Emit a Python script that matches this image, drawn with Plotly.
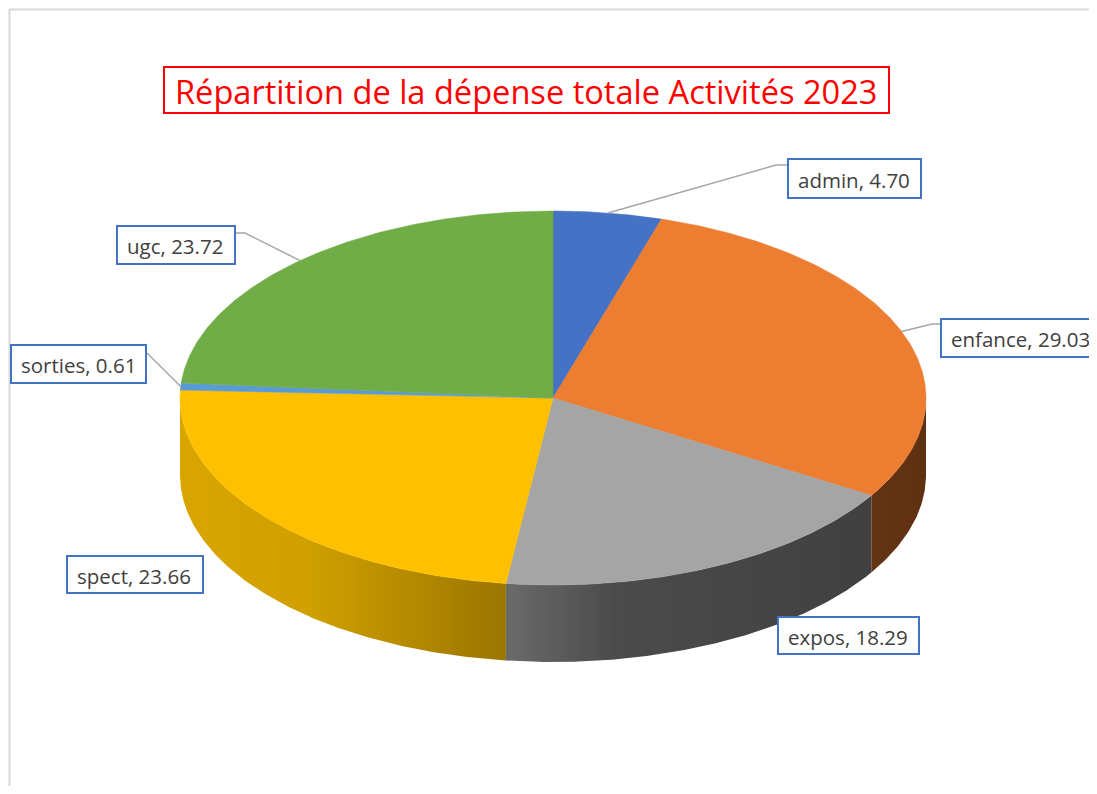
import numpy as np
import plotly.graph_objects as go

# ---- data ----
categories = ["admin", "enfance", "expos", "spect", "sorties", "ugc"]
values = [4.70, 29.03, 18.29, 23.66, 0.61, 23.72]
title_text = "Répartition de la dépense totale Activités 2023"

# ---- styles ----
top_colors = ["#4472C4", "#ED7D31", "#A5A5A5", "#FFC000", "#5B9BD5", "#70AD47"]
side_scales = {
    "admin": [[0, "#2a4a80"], [1, "#2a4a80"]],
    "enfance": [[0, "#643414"], [1, "#5e3112"]],
    "expos": [[0, "#6a6a6a"], [0.3, "#4b4b4b"], [1, "#404040"]],
    "spect": [[0, "#d9a500"], [0.4, "#d0a000"], [1, "#9a7500"]],
    "sorties": [[0, "#3a6a98"], [1, "#3a6a98"]],
    "ugc": [[0, "#4a7a2e"], [1, "#4a7a2e"]],
}

# page has an 8px body margin; axis ranges map data units to screen pixels
OFF = 8
W, H = 1097, 794
cx, cy, rx, ry, depth = 553, 398, 373, 187, 77

# label box layout (pixel coordinates)
label_boxes = {
    "admin": (788, 921, 159, 198),
    "enfance": (941, 1125, 319, 357),
    "expos": (778, 919, 617, 654),
    "spect": (67, 203, 556, 593),
    "sorties": (11, 146, 345, 383),
    "ugc": (117, 235, 226, 264),
}
leader_bends = {
    "admin": [(776, 165), (788, 165)],
    "enfance": [(932, 324), (941, 324)],
    "sorties": [(147, 353)],
    "ugc": [(245, 233), (235, 233)],
}


def ex(t):
    return cx + rx * np.sin(t)


def ey(t):
    return cy - ry * np.cos(t)


fig = go.Figure()

total = sum(values)
fr = np.cumsum([0] + values) / total
angles = 2 * np.pi * fr

# side walls (front half: 90..270 degrees)
for i, name in enumerate(categories):
    a, b = angles[i], angles[i + 1]
    lo, hi = max(a, np.pi / 2), min(b, 3 * np.pi / 2)
    if hi <= lo:
        continue
    n = max(3, int((hi - lo) / (2 * np.pi) * 720))
    t = np.linspace(lo, hi, n)
    xs = np.concatenate([ex(t), ex(t[::-1])])
    ys = np.concatenate([ey(t), ey(t[::-1]) + depth])
    xs = np.append(xs, xs[0])
    ys = np.append(ys, ys[0])
    fig.add_trace(go.Scatter(
        x=xs, y=ys, mode="lines", fill="toself",
        line=dict(width=0), fillgradient=dict(type="horizontal", colorscale=side_scales[name]),
        hoverinfo="skip", showlegend=False))

# top slices
for i, name in enumerate(categories):
    a, b = angles[i], angles[i + 1]
    n = max(3, int((b - a) / (2 * np.pi) * 720))
    t = np.linspace(a, b, n)
    xs = np.concatenate([[cx], ex(t), [cx]])
    ys = np.concatenate([[cy], ey(t), [cy]])
    fig.add_trace(go.Scatter(
        x=xs, y=ys, mode="lines", fill="toself", fillcolor=top_colors[i],
        line=dict(width=0.5, color=top_colors[i]), name=name,
        text=f"{name}, {values[i]:.2f}", hoverinfo="text", showlegend=False))

shapes = []
annotations = []

# border of chart area
shapes.append(dict(type="rect", xref="x", yref="y", x0=9.5, x1=1200, y0=9.5, y1=900,
                   line=dict(color="#d9d9d9", width=2), layer="below"))

# title
shapes.append(dict(type="rect", xref="x", yref="y", x0=164, x1=889, y0=67, y1=113,
                   line=dict(color="#FF0000", width=2)))
annotations.append(dict(x=526.5, y=91, xref="x", yref="y", text=title_text, showarrow=False,
                        font=dict(family="Open Sans", size=32.6, color="#FF0000"),
                        xanchor="center", yanchor="middle"))

# labels
for i, name in enumerate(categories):
    mid = (angles[i] + angles[i + 1]) / 2
    x0, x1, y0, y1 = label_boxes[name]
    if name in leader_bends:
        pts = [(ex(mid), ey(mid))] + leader_bends[name]
        path = "M " + " L ".join(f"{px:.1f},{py:.1f}" for px, py in pts)
        shapes.append(dict(type="path", xref="x", yref="y", path=path,
                           line=dict(color="#A6A6A6", width=1.5)))
    shapes.append(dict(type="rect", xref="x", yref="y", x0=x0, x1=x1, y0=y0, y1=y1,
                       fillcolor="white", line=dict(color="#4472C4", width=2)))
    annotations.append(dict(x=x0 + 8, y=(y0 + y1) / 2 + 1, xref="x", yref="y",
                            text=f"{name}, {values[i]:.2f}", showarrow=False,
                            font=dict(family="Open Sans", size=20.5, color="#404040"),
                            xanchor="left", yanchor="middle"))

fig.update_layout(
    width=W - 2 * OFF, height=H - 2 * OFF, margin=dict(l=0, r=0, t=0, b=0),
    paper_bgcolor="white", plot_bgcolor="white",
    xaxis=dict(range=[OFF, W - OFF], visible=False, fixedrange=True),
    yaxis=dict(range=[H - OFF, OFF], visible=False, fixedrange=True),
    shapes=shapes, annotations=annotations,
)

fig.write_html("out.html")
